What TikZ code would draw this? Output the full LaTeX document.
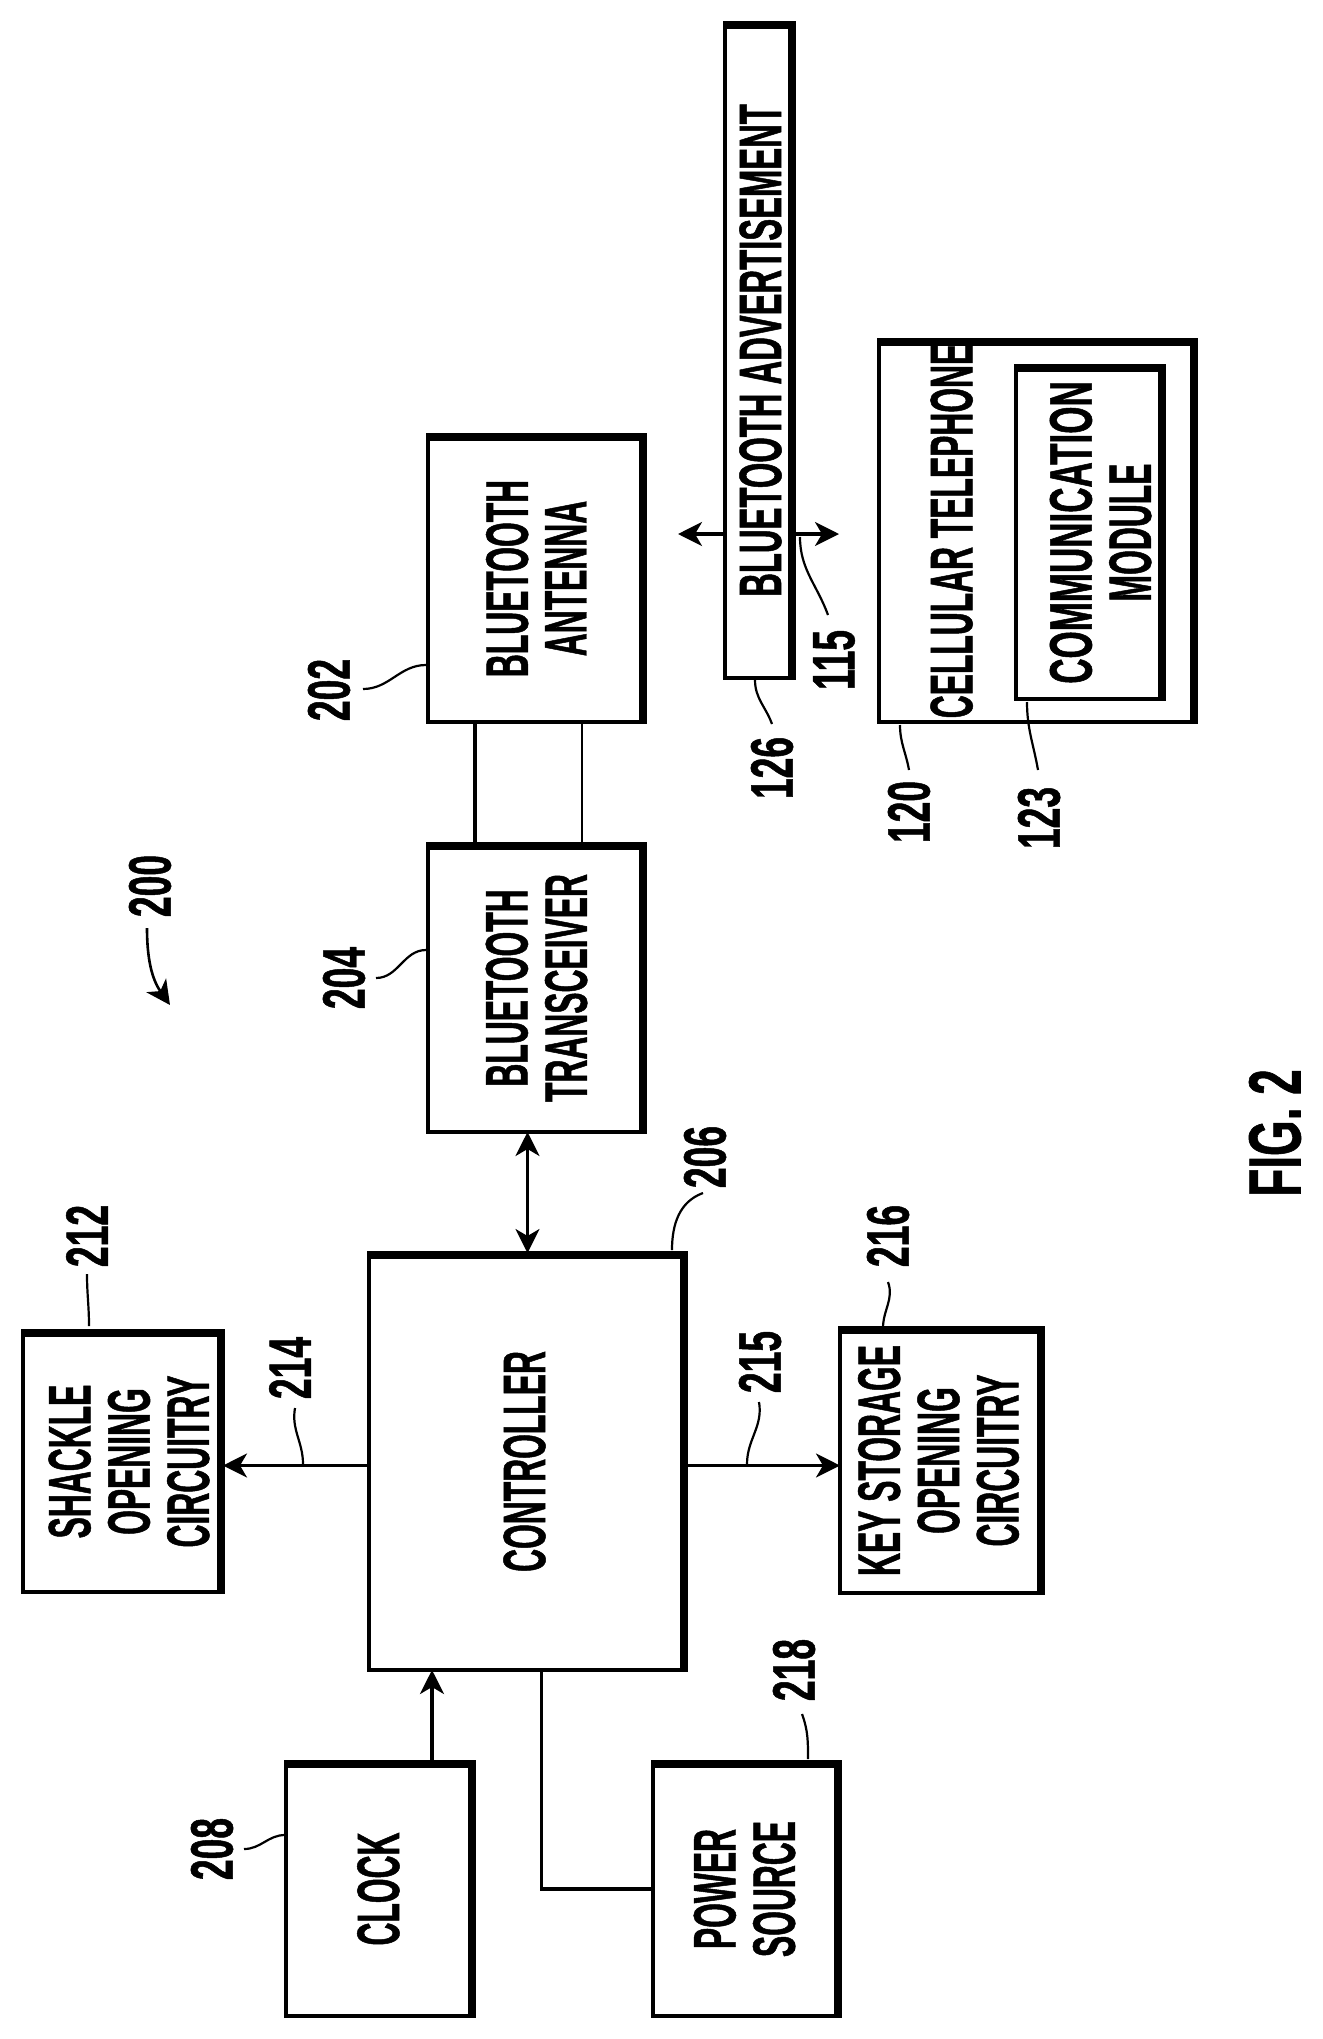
\documentclass[tikz,border=0pt]{standalone}
\usepackage{fontspec}
\setmainfont[FakeStretch=0.53, BoldFeatures={FakeBold=0.8}]{Liberation Sans}
\newfontfamily\refnumfont[FakeStretch=0.62, BoldFeatures={FakeBold=0.8}]{Liberation Sans}
\usetikzlibrary{arrows.meta}

\newcommand{\Sideways}[2]{\kern#1\rotatebox{90}{\begin{tabular}{@{}c@{}}#2\end{tabular}}\kern-#1}

\tikzset{
	blockbox/.style={rectangle, draw=black, line width=1.8pt, inner sep=0pt, outer sep=0pt, fill=white, font=\fontsize{30pt}{29pt}\selectfont\bfseries},
	heavy/.style={line width=3.4pt},
	refnum/.style={rotate=90, inner sep=0pt, font=\fontsize{30pt}{29pt}\selectfont\refnumfont\bfseries},
	leader/.style={line width=1.1pt},
	wire/.style={line width=1.6pt},
	arrowtip/.style={-{Stealth[length=12pt, width=12pt, inset=3.5pt]}, line width=1.6pt},
}

\begin{document}
\begin{tikzpicture}[x=0.5pt, y=-0.5pt]

\useasboundingbox (0, 0) rectangle (1322, 2039);

\newcommand{\HeavySide}[1]{
	\draw[heavy] ([yshift=-1.2pt]#1.north west) -- ([xshift=-1.2pt, yshift=-1.2pt]#1.north east) -- ([xshift=-1.2pt]#1.south east);
}

\node (advert) at (759.5, 350.5) [blockbox, minimum width=34.5pt, minimum height=327.5pt] {\Sideways{4.7pt}{\scalebox{1.03}[1]{BLUETOOTH ADVERTISEMENT}}};
\node (cell) at (1037.5, 531) [blockbox, minimum width=158.5pt, minimum height=191pt] {};
\node (cellname) at (960, 531) [blockbox, draw=none, fill=none] {\Sideways{0pt}{CELLULAR TELEPHONE}};
\node (comm) at (1090, 532.5) [blockbox, minimum width=74pt, minimum height=166.5pt] {\Sideways{9.5pt}{\scalebox{1.1}[1]{COMMUNICATION}\\MODULE}};

\node (antenna) at (536.5, 578.5) [blockbox, minimum width=108.5pt, minimum height=143.5pt] {\Sideways{4.2pt}{BLUETOOTH\\ANTENNA}};
\node (transceiver) at (536.5, 988) [blockbox, minimum width=108.5pt, minimum height=144pt] {\Sideways{4.2pt}{BLUETOOTH\\TRANSCEIVER}};
\node (controller) at (527.5, 1461.5) [blockbox, minimum width=158.5pt, minimum height=208.5pt] {\Sideways{2.7pt}{CONTROLLER}};
\node (shackle) at (123, 1461.5) [blockbox, minimum width=100pt, minimum height=130.5pt] {\Sideways{7.2pt}{SHACKLE\\OPENING\\CIRCUITRY}};
\node (keystore) at (941.5, 1460.5) [blockbox, minimum width=101.5pt, minimum height=132.5pt] {\Sideways{2.7pt}{KEY STORAGE\\OPENING\\CIRCUITRY}};
\node (clock) at (380, 1889) [blockbox, minimum width=94pt, minimum height=127pt] {\Sideways{3.4pt}{CLOCK}};
\node (power) at (746.5, 1889) [blockbox, minimum width=93.5pt, minimum height=127pt] {\Sideways{3.2pt}{POWER\\SOURCE}};

\foreach \b in {advert, cell, comm, antenna, transceiver, controller, shackle, keystore, clock, power}
	\HeavySide{\b};

\draw[wire] ([xshift=-30.75pt]antenna.south) -- ([xshift=-30.75pt]transceiver.north);
\draw[wire, line width=1.3pt] ([xshift=22.75pt]antenna.south) -- ([xshift=22.75pt]transceiver.north);
\draw[arrowtip, {Stealth[length=12pt, width=12pt, inset=3.5pt]}-{Stealth[length=12pt, width=12pt, inset=3.5pt]}] (controller.north) -- (controller.north |- transceiver.south);
\draw[arrowtip] ([yshift=-2pt]controller.west) -- ([yshift=-2pt]shackle.east);
\draw[arrowtip] ([yshift=-2pt]controller.east) -- ([yshift=-2pt]controller.east -| keystore.west);
\draw[arrowtip] ([xshift=26pt]clock.north) -- ([xshift=26pt]clock.north |- controller.south);
\draw[wire] ([xshift=7pt]controller.south) |- (power.west);

\coordinate (antennaward) at (678, 534);
\coordinate (phoneward) at (839, 534);
\draw[arrowtip] (advert.west |- antennaward) -- (antennaward);
\draw[arrowtip] (advert.east |- phoneward) -- (phoneward);

% reference numbers with their leaders
\foreach \lab/\lx/\ly/\ax/\ay/\bx/\by/\oa/\ia in {
	202/329/690/363/689/426/665/0/180,
	204/344/978/376/978/426/950/0/180,
	208/212/1849/244/1849/285/1835/0/180,
	212/87/1236/87/1274/89/1326/-90/90,
	214/290/1368/295/1408/303/1464/-100/90,
	206/705/1157/703/1193/672/1250/200/90,
	215/760/1362/759/1402/747/1464/-80/90,
	216/888/1236/888/1282/883/1328/-70/90,
	218/794/1670/802/1714/808/1759/-70/90,
	115/834/660/828/615/800/537/110/-90,
	126/772/768/772/724/755/680/110/-90,
	120/909/812/909/770/900/725/100/-90,
	123/1039/818/1038/770/1027/702/100/-90} {
	\node (ref\lab) at (\lx, \ly) [refnum] {\lab};
	\coordinate (from\lab) at (\ax, \ay);
	\coordinate (to\lab) at (\bx, \by);
	\draw[leader] (from\lab) to[out=\oa, in=\ia] (to\lab);
}

\node (ref200) at (150, 886) [refnum] {200};
\coordinate (sysfrom) at (147, 928);
\coordinate (systip) at (170, 1005);
\draw[arrowtip, line width=1.3pt] (sysfrom) to[out=-90, in=125] (systip);

\node (figlabel) at (1275, 1133) [refnum, font=\fontsize{37pt}{37pt}\selectfont\refnumfont\bfseries] {FIG. 2};

\end{tikzpicture}
\end{document}
